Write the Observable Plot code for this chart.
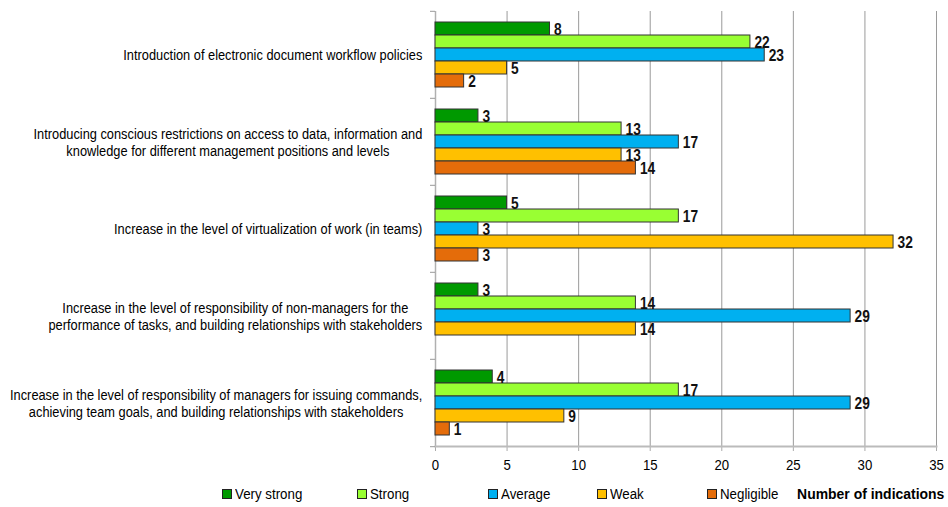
<!DOCTYPE html>
<html>
<head>
<meta charset="utf-8">
<script src="https://cdn.jsdelivr.net/npm/d3@7"></script>
<script src="https://cdn.jsdelivr.net/npm/@observablehq/plot@0.6"></script>
<style>
  html, body { margin: 0; padding: 0; background: #fff; }
  body { width: 948px; height: 507px; overflow: hidden; font-family: "Liberation Sans Narrow", "Arial Narrow", "Liberation Sans", sans-serif; }
  #legend { display: flex; align-items: center; height: 27px; font-size: 14px; color: #000; padding-left: 222px; }
  #legend .item { display: flex; align-items: center; }
  #legend .sw { width: 8px; height: 8px; border: 1px solid #222; margin-right: 3px; }
  #legend .lb { display: inline-block; transform: scaleX(0.95); transform-origin: left center; }
  #legend .axis-label { font-weight: bold; font-size: 15px; margin-left: auto; margin-right: 4px; transform: scaleX(0.93); transform-origin: right center; }
</style>
</head>
<body>
<div id="chart"></div>
<div id="legend"></div>
<script>
const categories = [
  "Introduction of electronic document workflow policies",
  "Introducing conscious restrictions on access to data, information and\nknowledge for different management positions and levels",
  "Increase in the level of virtualization of work (in teams)",
  "Increase in the level of responsibility of non-managers for the\nperformance of tasks, and building relationships with stakeholders",
  "Increase in the level of responsibility of managers for issuing commands,\nachieving team goals, and building relationships with stakeholders"
];
const series = ["Very strong", "Strong", "Average", "Weak", "Negligible"];
const veryStrong = [8, 3, 5, 3, 4];
const strong = [22, 13, 17, 14, 17];
const average = [23, 17, 3, 29, 29];
const weak = [5, 13, 32, 14, 9];
const negligible = [2, 14, 3, 0, 1];
const colors = ["#009900", "#99ff33", "#00b0f0", "#ffc000", "#e46c0a"];
const xTicks = [0, 5, 10, 15, 20, 25, 30, 35];
const xLabel = "Number of indications";

const FONT = '"Liberation Sans Narrow", "Arial Narrow", "Liberation Sans", sans-serif';
const seriesValues = [veryStrong, strong, average, weak, negligible];
const rows = categories.flatMap((c, i) =>
  series.map((s, j) => ({category: c, series: s, value: seriesValues[j][i]}))
).filter(d => d.value > 0);

const chart = Plot.plot({
  width: 948,
  height: 480,
  marginLeft: 435,
  marginRight: 12,
  marginTop: 10,
  marginBottom: 33,
  style: {fontFamily: FONT, fontSize: "14px", color: "#000", background: "white"},
  fy: {domain: categories, padding: 0, label: null},
  y: {domain: series, paddingInner: 0, paddingOuter: 0.7, axis: null},
  x: {domain: [0, 35], label: null},
  color: {domain: series, range: colors},
  marks: [
    Plot.ruleX(xTicks, {stroke: "#9a9a9a", strokeWidth: 1}),
    Plot.ruleX([0], {stroke: "#b0b0b0", strokeWidth: 1.5}),
    Plot.barX(rows, {fy: "category", y: "series", x: "value", fill: "series", stroke: "#333", strokeWidth: 1}),
    Plot.text(rows, {fy: "category", y: "series", x: "value", text: d => String(d.value), dx: 4, dy: 1, textAnchor: "start", fontWeight: "bold", fontSize: 16, fill: "#111", className: "vlabel"}),
    Plot.axisX({ticks: xTicks, tickSize: 5, tickPadding: 8, stroke: "#aaa", fontSize: 15, label: null, className: "xtick"}),
    Plot.frame({anchor: "bottom", facetAnchor: "bottom", stroke: "#bbb", strokeWidth: 2}),
    Plot.axisFy({anchor: "left", tickSize: 0, tickPadding: 13, label: null, fontSize: 15, textAnchor: "middle", lineHeight: 1.13}),
    Plot.axisFy({anchor: "left", tickSize: 5, tickFormat: () => "", dy: -43.7, stroke: "#999", label: null}),
    Plot.axisFy({anchor: "left", ticks: [categories[4]], tickSize: 5, tickFormat: () => "", dy: 43.7, stroke: "#999", label: null})
  ]
});
document.getElementById("chart").appendChild(chart);

// condense and right-align each centered label block
const SX = 0.855;
chart.querySelectorAll('g[aria-label="fy-axis tick label"] text').forEach(t => {
  const b = t.getBBox();
  const shift = -(b.x + b.width);
  const tr = t.getAttribute("transform") || "";
  t.setAttribute("transform", tr + ` scale(${SX},1) translate(${shift},0)`);
});
// condense value labels (narrow bold look)
chart.querySelectorAll('g.vlabel text, g[aria-label="text"] text').forEach(t => {
  const tr = t.getAttribute("transform") || "";
  t.setAttribute("transform", tr + " scale(0.86,1)");
});
chart.querySelectorAll('g[aria-label="x-axis tick label"] text').forEach(t => {
  const tr = t.getAttribute("transform") || "";
  t.setAttribute("transform", tr + " scale(0.88,1)");
});

// legend
const legend = document.getElementById("legend");
const slotWidths = [135, 131, 109, 110, 0];
series.forEach((s, i) => {
  const it = document.createElement("div");
  it.className = "item";
  if (slotWidths[i]) it.style.width = slotWidths[i] + "px";
  const sw = document.createElement("span");
  sw.className = "sw";
  sw.style.background = colors[i];
  const lb = document.createElement("span");
  lb.className = "lb";
  lb.textContent = s;
  it.appendChild(sw); it.appendChild(lb);
  legend.appendChild(it);
});
const al = document.createElement("div");
al.className = "axis-label";
al.textContent = xLabel;
legend.appendChild(al);
</script>
</body>
</html>
